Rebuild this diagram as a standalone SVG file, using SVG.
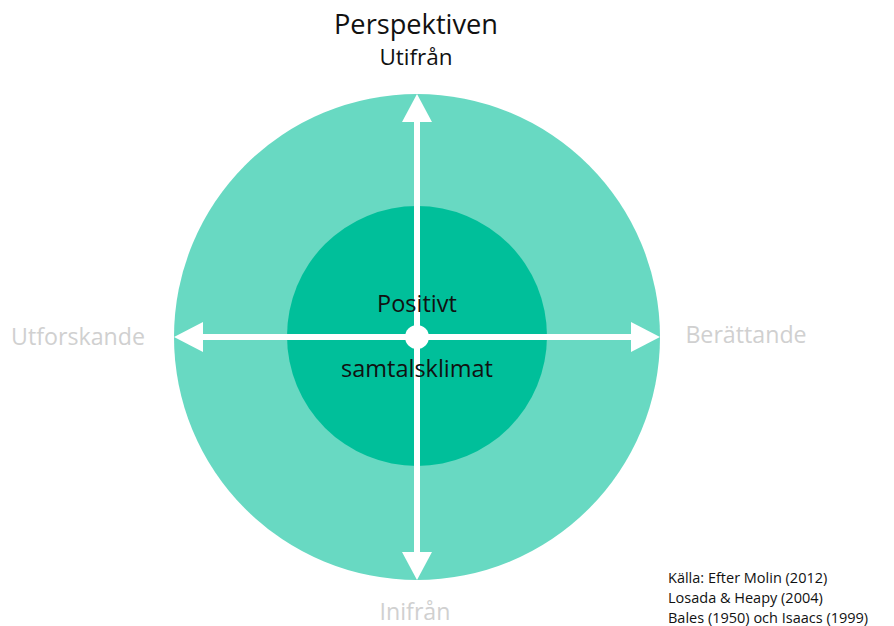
<svg xmlns="http://www.w3.org/2000/svg" width="894" height="626" viewBox="0 0 894 626">
<defs>
<style>
text{font-family:"Open Sans","Liberation Sans",Arial,sans-serif}
.dark{fill:#111}
.grey{fill:#d0d0d0;font-size:23.2px}
.src{fill:#111;font-size:14.5px}
.ax{stroke:#fff;stroke-width:6;fill:none}
.head{fill:#fff}
</style>
</defs>
<rect width="894" height="626" fill="#fff"/>
<g id="outer"><circle cx="417" cy="337" r="243" fill="#68d9c2"/></g>
<g id="inner"><circle cx="417" cy="336" r="130" fill="#00bf9a"/></g>
<g id="connectors">
<line class="ax" x1="417" y1="118" x2="417" y2="556"/>
<line class="ax" x1="198" y1="337" x2="636" y2="337"/>
<polygon class="head" points="417,94 402,122 432,122"/>
<polygon class="head" points="417,580 402,552 432,552"/>
<polygon class="head" points="174,337 203,322 203,352"/>
<polygon class="head" points="660,337 631,322 631,352"/>
<circle cx="417" cy="337" r="12" fill="#fff"/>
</g>
<g id="title">
<text class="dark" x="416" y="34" font-size="27.2" text-anchor="middle">Perspektiven</text>
<text class="dark" x="416" y="65" font-size="22.5" text-anchor="middle">Utifrån</text>
</g>
<g id="center-label">
<text class="dark" x="417" y="312" font-size="23.5" text-anchor="middle">Positivt</text>
<text class="dark" x="417" y="377" font-size="23.5" text-anchor="middle">samtalsklimat</text>
</g>
<g id="left-label"><text class="grey" x="78" y="345" text-anchor="middle">Utforskande</text></g>
<g id="right-label"><text class="grey" x="746" y="343" text-anchor="middle">Berättande</text></g>
<g id="bottom-label"><text class="grey" x="415" y="620" text-anchor="middle">Inifrån</text></g>
<g id="source">
<text class="src" x="668" y="583">Källa: Efter Molin (2012)</text>
<text class="src" x="668" y="603">Losada &amp; Heapy (2004)</text>
<text class="src" x="668" y="623">Bales (1950) och Isaacs (1999)</text>
</g>
</svg>
